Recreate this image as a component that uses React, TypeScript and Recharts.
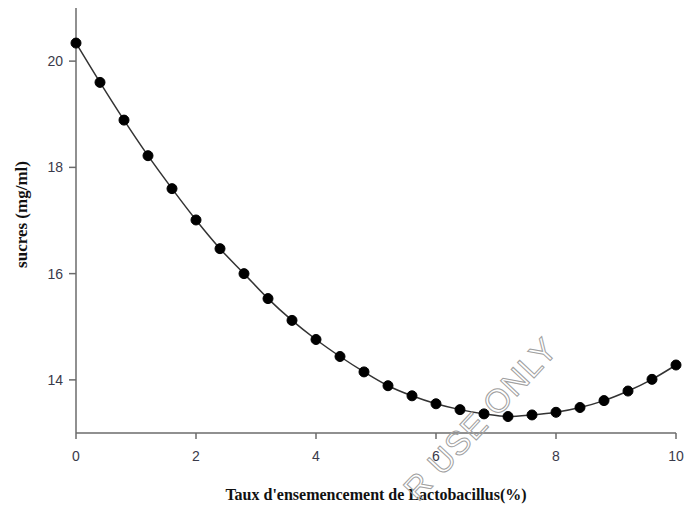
import React from 'react';
import { LineChart, Line, XAxis, YAxis } from 'recharts';

const taux = [0, 0.4, 0.8, 1.2, 1.6, 2, 2.4, 2.8, 3.2, 3.6, 4, 4.4, 4.8, 5.2, 5.6, 6, 6.4, 6.8, 7.2, 7.6, 8, 8.4, 8.8, 9.2, 9.6, 10];
const sucres = [20.34, 19.6, 18.89, 18.22, 17.6, 17.01, 16.47, 16.0, 15.53, 15.12, 14.76, 14.44, 14.15, 13.89, 13.7, 13.55, 13.44, 13.36, 13.31, 13.34, 13.39, 13.48, 13.61, 13.79, 14.01, 14.28];
const xTicks = [0, 2, 4, 6, 8, 10];
const yTicks = [14, 16, 18, 20];

const data = taux.map((t, i) => ({ t, s: sucres[i] }));

const axisColor = '#6b6b6b';
const tickStyle = { fontFamily: 'Liberation Sans, Arial, sans-serif', fontSize: 14, fill: '#3a3a4a' };

const App: React.FC = () => {
  return (
    <div style={{ position: 'absolute', left: 0, top: 0, width: 684, height: 507, background: '#fff', overflow: 'hidden' }}>
      <LineChart width={684} height={507} data={data} margin={{ top: 8, right: 8, bottom: 0, left: 30 }}>
        <XAxis
          dataKey="t"
          type="number"
          domain={[0, 10]}
          ticks={xTicks}
          stroke={axisColor}
          strokeWidth={1.5}
          tickSize={6}
          tickMargin={12}
          tick={tickStyle}
          height={74}
          label={{
            value: "Taux d'ensemencement de Lactobacillus(%)",
            position: 'insideBottom',
            offset: 7,
            style: { fontFamily: 'Liberation Serif, Times New Roman, serif', fontWeight: 'bold', fontSize: 16, fill: '#111' }
          }}
        />
        <YAxis
          type="number"
          domain={[13, 21]}
          ticks={yTicks}
          stroke={axisColor}
          strokeWidth={1.5}
          tickSize={7}
          tickMargin={6}
          tick={tickStyle}
          width={46}
          label={{
            value: 'sucres (mg/ml)',
            angle: -90,
            position: 'insideLeft',
            dx: -14,
            dy: -6,
            style: { textAnchor: 'middle', fontFamily: 'Liberation Serif, Times New Roman, serif', fontWeight: 'bold', fontSize: 17, fill: '#111' }
          }}
        />
        <Line
          type="monotone"
          dataKey="s"
          stroke="#333"
          strokeWidth={1.5}
          dot={{ r: 5, fill: '#000', stroke: '#000', strokeWidth: 1 }}
          isAnimationActive={false}
        />
      </LineChart>
      <div
        style={{
          position: 'absolute',
          left: 410,
          top: 478,
          transform: 'rotate(-47deg)',
          transformOrigin: 'left center',
          fontFamily: 'Liberation Sans, Arial, sans-serif',
          fontSize: 33,
          lineHeight: '34px',
          color: 'transparent',
          WebkitTextStroke: '1px #a0a0a0',
          letterSpacing: 1,
          whiteSpace: 'nowrap',
          pointerEvents: 'none'
        }}
      >
        R USE ONLY
      </div>
    </div>
  );
};

export default App;
